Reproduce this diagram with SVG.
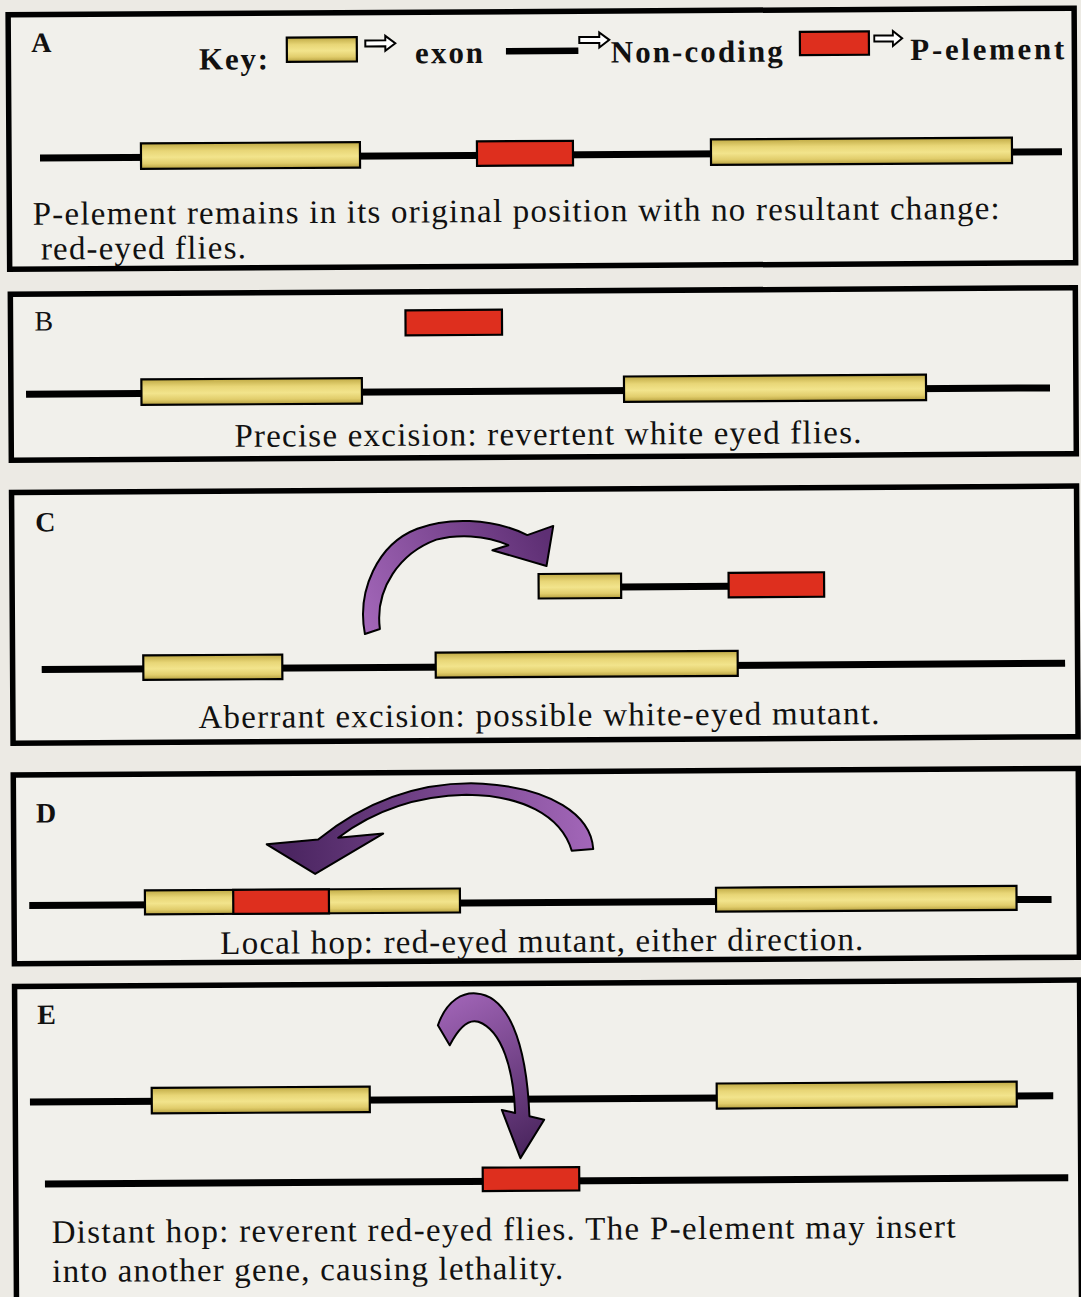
<svg xmlns="http://www.w3.org/2000/svg" width="1081" height="1297" viewBox="0 0 1081 1297">
<style>
.panel{fill:#f1f0eb;stroke:#000;stroke-width:5.5}
.dna{stroke:#000;stroke-width:7;fill:none}
.exon{fill:url(#exonG);stroke:#000;stroke-width:2.2}
.pel{fill:#de2f1e;stroke:#000;stroke-width:2.2}
.lbl{font-family:"Liberation Serif","Times New Roman",serif;font-weight:bold;font-size:28px;fill:#111}
.body{font-family:"Liberation Serif","Times New Roman",serif;font-size:33px;fill:#111}
.key{font-family:"Liberation Serif","Times New Roman",serif;font-weight:bold;font-size:31px;fill:#111}
.karr{fill:#fff;stroke:#000;stroke-width:2}
.arrow{stroke:#000;stroke-width:2;stroke-linejoin:round}
</style>
<defs>
<linearGradient id="exonG" x1="0" y1="0" x2="0" y2="1">
<stop offset="0" stop-color="#bfa944"/>
<stop offset="0.3" stop-color="#e8d677"/>
<stop offset="0.55" stop-color="#f2e48c"/>
<stop offset="0.8" stop-color="#e1cd6c"/>
<stop offset="1" stop-color="#b59f3e"/>
</linearGradient>
<linearGradient id="gC" gradientUnits="userSpaceOnUse" x1="370" y1="630" x2="550" y2="545">
<stop offset="0" stop-color="#a266b8"/>
<stop offset="1" stop-color="#5e2f74"/>
</linearGradient>
<linearGradient id="gD" gradientUnits="userSpaceOnUse" x1="590" y1="850" x2="290" y2="860">
<stop offset="0" stop-color="#a266b8"/>
<stop offset="1" stop-color="#4c2662"/>
</linearGradient>
<linearGradient id="gE" gradientUnits="userSpaceOnUse" x1="440" y1="1000" x2="520" y2="1155">
<stop offset="0" stop-color="#a064b6"/>
<stop offset="1" stop-color="#4a255e"/>
</linearGradient>
<path id="kar" d="M0,-3 H20 V-7.5 L30,0 L20,7.5 V3 H0 Z"/>
</defs>
<rect x="0" y="0" width="1081" height="1297" fill="#eceae4"/>
<g transform="rotate(-0.35 540 648)">
<g id="panelA">
<rect class="panel" x="12" y="11.5" width="1066" height="254.5"/>
<text class="lbl" x="35" y="49">A</text>
<g id="key">
<text class="key" x="202.6" y="67.5" textLength="69" lengthAdjust="spacing">Key:</text>
<rect class="exon" x="290.5" y="36" width="70" height="24.4"/>
<use href="#kar" class="karr" x="369" y="42.4"/>
<text class="key" x="418.7" y="62.5" textLength="68" lengthAdjust="spacing">exon</text>
<line class="dna" x1="509.6" y1="51" x2="582" y2="51" style="stroke-width:6.5"/>
<use href="#kar" class="karr" x="583" y="40.3"/>
<text class="key" x="614.3" y="63" textLength="172" lengthAdjust="spacing">Non-coding</text>
<rect class="pel" x="803.6" y="33.5" width="69" height="23.3"/>
<use href="#kar" class="karr" x="878" y="40.6" transform="translate(878 40.6) scale(0.93 1) translate(-878 -40.6)"/>
<text class="key" x="913.9" y="62.3" textLength="154" lengthAdjust="spacing">P-element</text>
</g>
<line class="dna" x1="43" y1="155" x2="1065" y2="155"/>
<rect class="exon" x="144" y="141" width="219" height="25.5"/>
<rect class="pel" x="480" y="141" width="96" height="24.5"/>
<rect class="exon" x="714" y="140.5" width="301" height="25.5"/>
<text class="body" x="35.4" y="221.7" textLength="967" lengthAdjust="spacing">P-element remains in its original position with no resultant change:</text>
<text class="body" x="43.3" y="256.5" textLength="205" lengthAdjust="spacing">red-eyed flies.</text>
</g>
<g id="panelB">
<rect class="panel" x="12.5" y="291" width="1065" height="166"/>
<text class="lbl" x="36.5" y="327.5" style="font-weight:normal">B</text>
<rect class="pel" x="407.5" y="309.5" width="96.5" height="25"/>
<line class="dna" x1="27.6" y1="391" x2="1051.6" y2="391"/>
<rect class="exon" x="143" y="377" width="220.5" height="25.5"/>
<rect class="exon" x="625.6" y="377" width="302" height="25.5"/>
<text class="body" x="235.7" y="445" textLength="627" lengthAdjust="spacing">Precise excision: revertent white eyed flies.</text>
</g>
<g id="panelC">
<rect class="panel" x="12.5" y="489.3" width="1065" height="250.7"/>
<text class="lbl" x="36" y="528.5">C</text>
<rect class="exon" x="539" y="574" width="82.5" height="24.5"/>
<line class="dna" x1="621.5" y1="587.5" x2="729" y2="587.5"/>
<rect class="pel" x="729" y="574" width="95.5" height="24.5"/>
<line class="dna" x1="41.6" y1="666.5" x2="1065" y2="666.5"/>
<rect class="exon" x="143.2" y="653" width="139" height="24.5"/>
<rect class="exon" x="435.6" y="652" width="302" height="25"/>
<text class="body" x="198" y="726" textLength="681" lengthAdjust="spacing">Aberrant excision: possible white-eyed mutant.</text>
</g>
<g id="panelD">
<rect class="panel" x="12.5" y="771.7" width="1065" height="188.8"/>
<text class="lbl" x="35" y="819.5">D</text>
<line class="dna" x1="27.7" y1="902.5" x2="1050" y2="902.5"/>
<rect class="exon" x="143.4" y="888" width="315" height="24"/>
<rect class="pel" x="231.7" y="888" width="95.7" height="24"/>
<rect class="exon" x="714.5" y="888.8" width="300.5" height="24"/>
<text class="body" x="218.5" y="952" textLength="643" lengthAdjust="spacing">Local hop: red-eyed mutant, either direction.</text>
</g>
<g id="panelE">
<rect class="panel" x="12.5" y="983.3" width="1065" height="330"/>
<text class="lbl" x="35" y="1021">E</text>
<line class="dna" x1="27.2" y1="1099" x2="1050.5" y2="1099"/>
<rect class="exon" x="149" y="1085.5" width="218" height="25.5"/>
<rect class="exon" x="714" y="1084.6" width="300" height="25"/>
<line class="dna" x1="41.7" y1="1181" x2="1065" y2="1181"/>
<rect class="pel" x="479.5" y="1167.3" width="96.5" height="23.4"/>
<text class="body" x="48" y="1240" textLength="904" lengthAdjust="spacing">Distant hop: reverent red-eyed flies. The P-element may insert</text>
<text class="body" x="48.5" y="1279" textLength="511" lengthAdjust="spacing">into another gene, causing lethality.</text>
</g>
<g id="connectors">
<path class="arrow" fill="url(#gC)" d="M365,633 C357,590 378,543 418,528 C447,517 492,517 528,535 L554,526 L547,566 L493,550 L509,545 C485,534 457,534 437,539 C401,552 375,587 380,628 Z"/>
<path class="arrow" fill="url(#gD)" d="M592,849.3 C590,815 550,788 482,783.3 C420,780 365,800 317,838.2 L265.5,842.6 L313.8,872.6 L382,832.6 L337,836.5 C375,808 420,795 465.5,794.3 C520,795 560,815 570.5,851 Z"/>
<path class="arrow" fill="url(#gE)" d="M435.6,1024.7 C445,998 462,992 474,993 C505,995 524,1040 526.6,1116.2 L541.3,1119.7 L517.3,1158 L499,1109.7 L512.3,1112.8 C511,1070 500,1030 476,1021.4 C465,1018 455,1030 447.3,1044.7 Z"/>
</g>
</g>
</svg>
